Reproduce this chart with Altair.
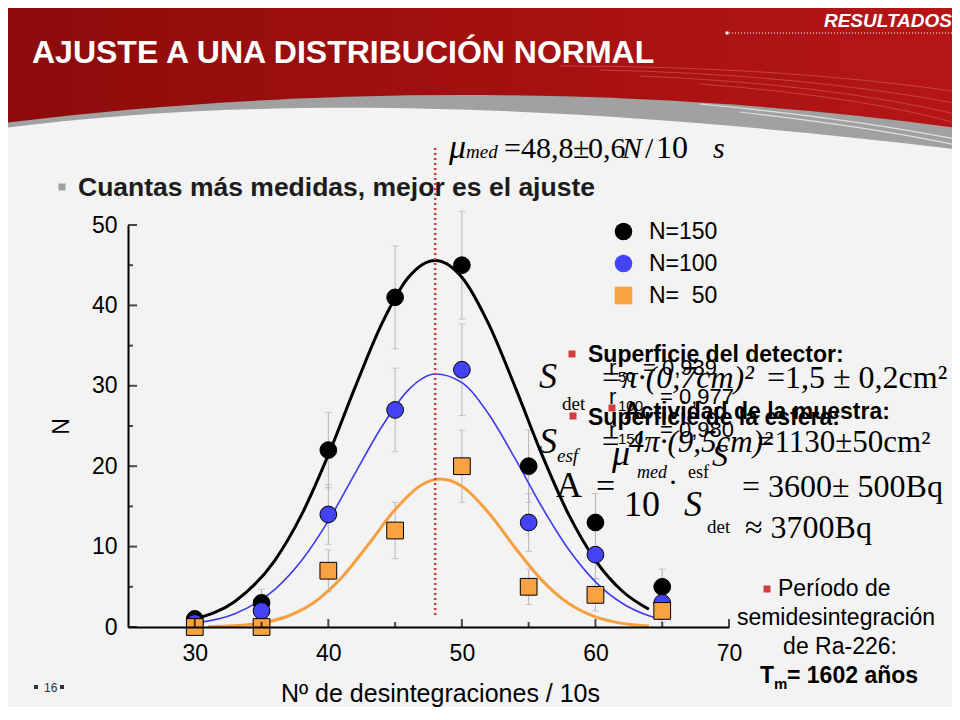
import altair as alt
import pandas as pd

# ---------------- data ----------------
x_vals = [30, 35, 40, 45, 50, 55, 60, 65]
n150 = [1, 3, 22, 41, 45, 20, 13, 5]
n100 = [0.5, 2, 14, 27, 32, 13, 9, 3]
n50 = [0, 0, 7, 12, 20, 5, 4, 2]
e150 = [1.0, 1.7, 4.7, 6.4, 6.7, 4.5, 3.6, 2.2]
e100 = [0.7, 1.4, 3.7, 5.2, 5.7, 3.6, 3.0, 1.7]
e50 = [0.0, 0.0, 2.6, 3.5, 4.5, 2.2, 2.0, 1.4]
series = ["N=150", "N=100", "N=\u200750"]

fit_x150 = [30, 33, 36, 38, 40, 42, 44, 46, 48, 50, 52, 54, 56, 58, 60, 62, 64]
fit_y150 = [0.99, 3.18, 8.30, 13.97, 21.4, 29.8, 37.7, 43.5, 45.6, 43.5, 37.7, 29.8, 21.4, 13.97, 8.30, 4.48, 2.20]
fit_x100 = [30, 33, 36, 38, 40, 42, 44, 46, 48, 50, 52, 54, 56, 58, 60, 62, 64, 65]
fit_y100 = [0.46, 1.65, 4.69, 8.28, 13.2, 19.1, 24.9, 29.5, 31.46, 30.4, 26.5, 20.9, 14.9, 9.63, 5.62, 2.96, 1.41, 0.94]
fit_x50 = [31, 33, 35, 37, 39, 41, 43, 45, 47, 48.4, 50, 52, 54, 56, 58, 60, 62, 64]
fit_y50 = [0.04, 0.16, 0.51, 1.37, 3.14, 6.15, 10.27, 14.6, 17.7, 18.4, 17.5, 14.2, 9.83, 5.80, 2.91, 1.25, 0.45, 0.14]

mu_x = [48.0]
mu_lo = [1.5]
mu_hi = [59.6]

x_ticks = [30, 40, 50, 60, 70]
x_minor = [35, 45, 55, 65]
y_ticks = [0, 10, 20, 30, 40, 50]
y_minor = [5, 15, 25, 35, 45]

# ---------------- tables ----------------
rows = []
for k, (s, vals, errs) in enumerate(zip(series, [n150, n100, n50], [e150, e100, e50])):
    for xv, v, e in zip(x_vals, vals, errs):
        rows.append({"x": xv, "y": v, "lo": v - e, "hi": v + e, "s": s, "k": k})
pts = pd.DataFrame(rows)
err = pts[pts["hi"] > pts["lo"]]
c150 = pd.DataFrame({"x": fit_x150, "y": fit_y150})
c100 = pd.DataFrame({"x": fit_x100, "y": fit_y100})
c50 = pd.DataFrame({"x": fit_x50, "y": fit_y50})
mu = pd.DataFrame({"x": mu_x, "y": mu_lo, "y2": mu_hi})
tx = pd.DataFrame({"x": x_ticks, "y": [0] * len(x_ticks)})
txm = pd.DataFrame({"x": x_minor, "y": [0] * len(x_minor)})
ty = pd.DataFrame({"x": [25] * len(y_ticks), "y": y_ticks})
tym = pd.DataFrame({"x": [25] * len(y_minor), "y": y_minor})

SANS = "Liberation Sans, Arial, sans-serif"
SERIF = "Liberation Serif, Times New Roman, serif"
NARROW = "Liberation Sans Narrow, Arial Narrow, Liberation Sans, sans-serif"

W, H = 601, 402
OX, OY = 128, 225  # page position of plot origin

xs = alt.Scale(domain=[25, 70], nice=False, zero=False)
ys = alt.Scale(domain=[0, 50], nice=False, zero=False)
axX = alt.Axis(values=x_ticks, ticks=False, tickSize=0, domainColor="black", domainWidth=2,
               labelFontSize=23, labelFont=SANS, labelColor="black", labelPadding=15,
               labelFlush=False, grid=False, title="Nº de desintegraciones / 10s",
               titleFontSize=25, titleFont=SANS, titleFontWeight="normal", titleColor="black",
               titlePadding=16, titleX=312, zindex=1)
axY = alt.Axis(values=y_ticks, ticks=False, tickSize=0, domainColor="black", domainWidth=2,
               labelFontSize=23, labelFont=SANS, labelColor="black", labelPadding=11,
               labelFlush=False, grid=False, title="N", titleFontSize=23, titleFont=SANS,
               titleFontWeight="normal", titleColor="black", titlePadding=18, zindex=1)
X = alt.X("x:Q", scale=xs, axis=axX)
Y = alt.Y("y:Q", scale=ys, axis=axY)

one = pd.DataFrame({"t": [""]})


def txt(s, px, py, size, font=SANS, weight="normal", style="normal", color="#000000", align="left"):
    return alt.Chart(pd.DataFrame({"t": [s]})).mark_text(
        font=font, fontSize=size, fontWeight=weight, fontStyle=style, color=color,
        align=align, baseline="alphabetic").encode(
        x=alt.value(px - OX), y=alt.value(py - OY), text="t:N")


def sq(px, py, side, color):
    return alt.Chart(one).mark_square(size=side * side, color=color, opacity=1, filled=True).encode(
        x=alt.value(px - OX), y=alt.value(py - OY))


# decorative slide shapes: custom symbol paths anchored at page (480, 600), half-size 500 px
SHAPE_SIZE = 1000 * 1000
GRAY_PATH = "M -1 -0.948 C -0.36 -1.032 0.34 -1.032 1 -0.938 L 1 1 L -1 1 Z"
WHITE_PATH = "M -1 -0.938 C -0.46 -1.01 0.14 -1.0 1 -0.896 L 1 1 L -1 1 Z"
RED_LINES = ("M 0.16 -1.068 Q 0.6 -1.068 0.96 -1.016 "
             "M 0.24 -1.06 Q 0.64 -1.052 0.96 -0.992 "
             "M 0.32 -1.048 Q 0.7 -1.032 0.96 -0.97 "
             "M 0.44 -1.032 Q 0.76 -1.008 0.96 -0.952")
WHITE_LINES = ("M 0.44 -0.992 Q 0.74 -0.964 0.96 -0.92 "
               "M 0.52 -0.976 Q 0.8 -0.944 0.96 -0.908")


def deco(path, fill=None, stroke=None, width=1.0, opacity=1.0):
    if fill is not None:
        m = alt.Chart(one).mark_point(shape=path, filled=True, fill=fill, strokeWidth=0,
                                      opacity=opacity, size=SHAPE_SIZE)
    else:
        m = alt.Chart(one).mark_point(shape=path, filled=False, stroke=stroke, strokeWidth=width,
                                      opacity=opacity, size=SHAPE_SIZE)
    return m.encode(x=alt.value(480 - OX), y=alt.value(600 - OY))


# ---------------- slide decoration ----------------
red = alt.Chart(one).mark_rect(color=alt.LinearGradient(
    gradient="linear", x1=0, x2=1, y1=0, y2=0,
    stops=[alt.GradientStop(color="#8d0b0b", offset=0),
           alt.GradientStop(color="#a31010", offset=0.5),
           alt.GradientStop(color="#b51616", offset=1)])).encode(
    x=alt.value(8 - OX), x2=alt.value(952 - OX), y=alt.value(8 - OY), y2=alt.value(170 - OY))
redlines = deco(RED_LINES, stroke="#d65a5a", width=1.0, opacity=0.65)
gray = deco(GRAY_PATH, fill="#a1a1a1")
whitelines = deco(WHITE_LINES, stroke="#e8e8e8", width=1.2, opacity=0.9)
bg = deco(WHITE_PATH, fill="#f3f3f3")
dotline = alt.Chart(one).mark_rule(color="white", strokeWidth=1, strokeDash=[1, 2]).encode(
    x=alt.value(726 - OX), x2=alt.value(952 - OX), y=alt.value(33 - OY))
dot = sq(727, 33, 3, "white")

# ---------------- plot ----------------
errbars = alt.Chart(err).mark_rule(color="#b5b5b5", strokeWidth=1).encode(
    x=X, y=alt.Y("lo:Q", scale=ys, axis=axY), y2="hi:Q")
caps_lo = alt.Chart(err).mark_tick(color="#b5b5b5", orient="horizontal", size=7, thickness=1).encode(
    x=X, y=alt.Y("lo:Q", scale=ys, axis=axY))
caps_hi = alt.Chart(err).mark_tick(color="#b5b5b5", orient="horizontal", size=7, thickness=1).encode(
    x=X, y=alt.Y("hi:Q", scale=ys, axis=axY))

line150 = alt.Chart(c150).mark_line(color="black", strokeWidth=3, interpolate="monotone").encode(x=X, y=Y)
line100 = alt.Chart(c100).mark_line(color="#3b3bee", strokeWidth=1.6, interpolate="monotone").encode(x=X, y=Y)
line50 = alt.Chart(c50).mark_line(color="#f5a040", strokeWidth=3, interpolate="monotone").encode(x=X, y=Y)

murule = alt.Chart(mu).mark_rule(color="#d23a3a", strokeWidth=2.5, strokeDash=[2, 3]).encode(
    x=X, y=Y, y2="y2:Q")

leg = alt.Legend(orient="none", legendX=484, legendY=-5, title=None, labelFontSize=23,
                 labelFont=SANS, labelColor="black", symbolSize=310, symbolStrokeColor="black",
                 symbolStrokeWidth=1, rowPadding=8, labelOffset=14, padding=0, symbolOpacity=1)
points = alt.Chart(pts).mark_point(filled=True, size=280, opacity=1, stroke="black", strokeWidth=1).encode(
    x=X, y=Y,
    fill=alt.Fill("s:N", scale=alt.Scale(domain=series, range=["#000000", "#4343f5", "#f9a244"]), legend=leg),
    shape=alt.Shape("s:N", scale=alt.Scale(domain=series, range=["circle", "circle", "square"]), legend=leg),
    order=alt.Order("k:Q", sort="ascending"))

tick_maj_x = alt.Chart(tx).mark_tick(color="black", orient="vertical", size=8, thickness=2, yOffset=-4).encode(x=X, y=Y)
tick_min_x = alt.Chart(txm).mark_tick(color="black", orient="vertical", size=5, thickness=2, yOffset=-2.5).encode(x=X, y=Y)
tick_maj_y = alt.Chart(ty).mark_tick(color="black", orient="horizontal", size=9, thickness=2, xOffset=4.5).encode(x=X, y=Y)
tick_min_y = alt.Chart(tym).mark_tick(color="black", orient="horizontal", size=5, thickness=2, xOffset=2.5).encode(x=X, y=Y)

# ---------------- texts ----------------
RED = "#d23c3c"
texts = [
    txt("RESULTADOS", 952, 27, 19, weight="bold", style="italic", color="white", align="right"),
    txt("AJUSTE A UNA DISTRIBUCIÓN NORMAL", 32, 63, 32, font=NARROW, weight="bold", color="white"),
    sq(62, 187, 7, "#a0a0a0"),
    txt("Cuantas más medidas, mejor es el ajuste", 78, 196, 26.5, weight="bold", color="#1c1c1c"),
    # mu formula
    txt("μ", 449, 158, 34, font=SERIF, style="italic"),
    txt("med", 466, 158, 19, font=SERIF, style="italic"),
    txt("=", 504, 158, 30, font=SERIF),
    txt("48,8", 521, 158, 30, font=SERIF),
    txt("±", 573, 158, 30, font=SERIF),
    txt("0,6", 588, 158, 30, font=SERIF),
    txt("N", 622, 158, 30, font=SERIF, style="italic"),
    txt("/", 645, 158, 30, font=SERIF),
    txt("10", 656, 158, 32, font=SERIF),
    txt("s", 713, 158, 30, font=SERIF, style="italic"),
    # right block
    sq(572, 354, 7, RED),
    txt("Superficie del detector:", 588, 362, 23, weight="bold"),
    txt("S", 539, 388, 36, font=SERIF, style="italic"),
    txt("det", 562, 410, 19, font=SERIF),
    txt("=π·(0,7cm)²", 600, 388, 32, font=SERIF, style="italic"),
    txt("=1,5 ± 0,2cm²", 767, 388, 32, font=SERIF),
    txt("r", 609, 375, 22),
    txt("50", 618, 382, 15),
    txt("= 0,939", 643, 375, 22),
    txt("r", 609, 404, 22),
    txt("100", 618, 411, 15),
    txt("= 0,977", 660, 404, 22),
    sq(573, 416, 7, RED),
    txt("Superficie de la esfera:", 588, 425, 23, weight="bold"),
    sq(612, 408, 7, RED),
    txt("Actividad de la muestra:", 624, 419, 23, weight="bold"),
    txt("r", 609, 437, 22),
    txt("150", 618, 444, 15),
    txt("= 0,980", 660, 437, 22),
    txt("S", 539, 453, 36, font=SERIF, style="italic"),
    txt("esf", 557, 462, 19, font=SERIF, style="italic"),
    txt("= 4π·(9,5cm)²", 600, 452, 31, font=SERIF, style="italic"),
    txt("=1130±50cm²", 757, 452, 31, font=SERIF),
    txt("μ", 612, 465, 36, font=SERIF, style="italic"),
    txt("S", 712, 466, 32, font=SERIF, style="italic"),
    txt("med", 637, 478, 18, font=SERIF, style="italic"),
    txt("esf", 688, 478, 18, font=SERIF),
    txt("A", 556, 497, 36, font=SERIF),
    txt("=", 596, 497, 34, font=SERIF),
    txt("10", 624, 516, 36, font=SERIF),
    txt("·", 668, 492, 30, font=SERIF),
    txt("S", 684, 516, 36, font=SERIF, style="italic"),
    txt("det", 707, 533, 19, font=SERIF),
    txt("= 3600± 500Bq", 742, 497, 32, font=SERIF),
    txt("≈ 3700Bq", 745, 538, 32, font=SERIF),
    # bottom right
    sq(767, 589, 7, RED),
    txt("Período de", 778, 596, 23),
    txt("semidesintegración", 836, 625, 23, align="center"),
    txt("de Ra-226:", 840, 654, 23, align="center"),
    txt("T", 760, 683, 23, weight="bold"),
    txt("m", 774, 689, 15, weight="bold"),
    txt("= 1602 años", 787, 683, 23, weight="bold"),
    # page number
    sq(36, 687, 4, "#333333"),
    txt("16", 44, 692, 12, color="#333333"),
    sq(62, 687, 4, "#333333"),
]

chart = alt.layer(
    red, redlines, gray, whitelines, bg, dotline, dot,
    errbars, caps_lo, caps_hi,
    line150, line100, line50,
    murule,
    points,
    tick_maj_x, tick_min_x, tick_maj_y, tick_min_y,
    *texts,
).properties(
    width=W, height=H,
    padding={"left": 120, "top": 217, "right": 223, "bottom": 80},
    autosize=alt.AutoSizeParams(type="none"),
).configure(background="#f3f3f3").configure_view(stroke=None)

chart.save("out.html", embed_options={"renderer": "svg", "actions": False})
